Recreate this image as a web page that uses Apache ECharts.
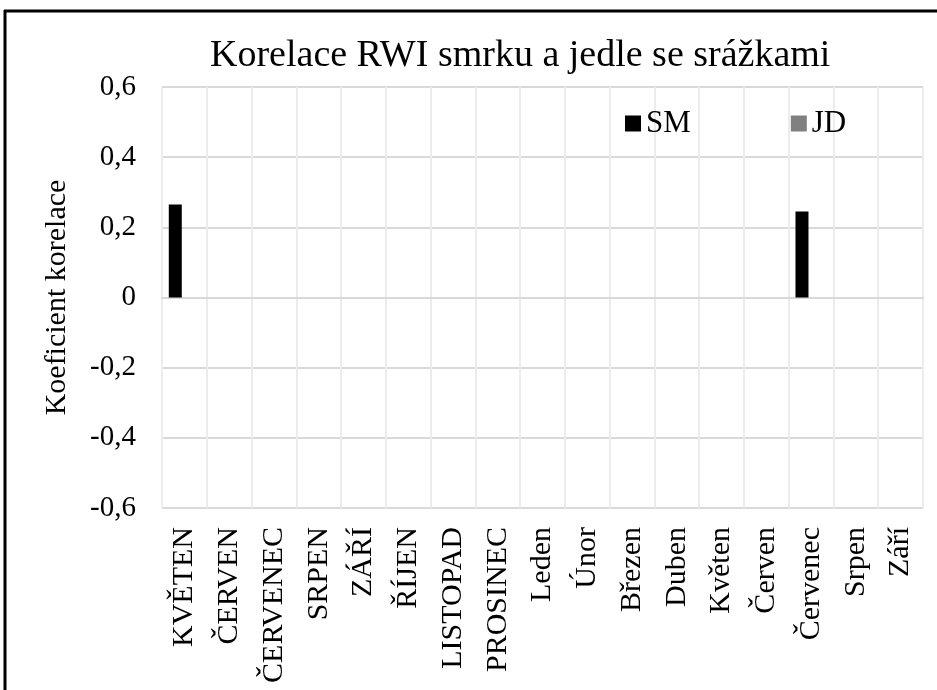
<!DOCTYPE html>
<html>
<head>
<meta charset="utf-8">
<script src="https://cdn.jsdelivr.net/npm/echarts@6/dist/echarts.min.js"></script>
<style>
  html, body { margin: 0; padding: 0; background: #fff; }
  #chart { width: 937px; height: 690px; }
</style>
</head>
<body>
<div id="chart"></div>
<script>
const months = [
  "KVĚTEN", "ČERVEN", "ČERVENEC", "SRPEN", "ZÁŘÍ", "ŘÍJEN", "LISTOPAD", "PROSINEC",
  "Leden", "Únor", "Březen", "Duben", "Květen", "Červen", "Červenec", "Srpen", "Září"
];
const smValues = [0.265, 0, 0, 0, 0, 0, 0, 0, 0, 0, 0, 0, 0, 0, 0.245, 0, 0];
const jdValues = [0, 0, 0, 0, 0, 0, 0, 0, 0, 0, 0, 0, 0, 0, 0, 0, 0];

const font = '"Liberation Serif", "Times New Roman", serif';
const chart = echarts.init(document.getElementById("chart"));

chart.setOption({
  animation: false,
  backgroundColor: "#fff",
  textStyle: { fontFamily: font, color: "#000" },
  title: {
    text: "Korelace RWI smrku a jedle se srážkami",
    left: 205,
    top: 32,
    textStyle: { fontFamily: font, fontSize: 38, fontWeight: "normal", color: "#000" }
  },
  legend: {
    left: 620,
    top: 103,
    icon: "rect",
    itemWidth: 16,
    itemHeight: 16,
    itemGap: 100,
    textStyle: { fontFamily: font, fontSize: 31, color: "#000" },
    data: ["SM", "JD"]
  },
  grid: { left: 162, right: 14, top: 87, bottom: 182, containLabel: false },
  xAxis: {
    type: "category",
    data: months,
    axisLine: { show: true, lineStyle: { color: "#d9d9d9", width: 2 } },
    axisTick: { show: false },
    splitLine: { show: true, interval: 0, lineStyle: { color: "#ececec", width: 2 } },
    axisLabel: {
      interval: 0,
      rotate: 90,
      margin: 19,
      fontFamily: font,
      fontSize: 30,
      color: "#000"
    }
  },
  yAxis: {
    type: "value",
    min: -0.6,
    max: 0.6,
    interval: 0.2,
    name: "Koeficient korelace",
    nameLocation: "middle",
    nameGap: 90,
    nameTextStyle: { fontFamily: font, fontSize: 30, color: "#000" },
    axisLine: { show: false },
    axisTick: { show: false },
    splitLine: { lineStyle: { color: "#d9d9d9", width: 2 } },
    axisLabel: {
      margin: 26,
      fontFamily: font,
      fontSize: 29,
      color: "#000",
      formatter: v => {
        const r = Math.round(v * 10) / 10;
        return r === 0 ? "0" : r.toFixed(1).replace(".", ",");
      }
    }
  },
  series: [
    {
      name: "SM",
      type: "bar",
      data: smValues,
      barWidth: 13,
      barGap: "40%",
      itemStyle: { color: "#000" }
    },
    {
      name: "JD",
      type: "bar",
      data: jdValues,
      barWidth: 13,
      itemStyle: { color: "#808080" }
    }
  ],
  graphic: [
    { type: "line", shape: { x1: 5, y1: 10, x2: 5, y2: 690 }, style: { stroke: "#000", lineWidth: 3 } },
    { type: "line", shape: { x1: 4, y1: 11, x2: 937, y2: 11 }, style: { stroke: "#000", lineWidth: 3 } }
  ]
});
</script>
</body>
</html>
